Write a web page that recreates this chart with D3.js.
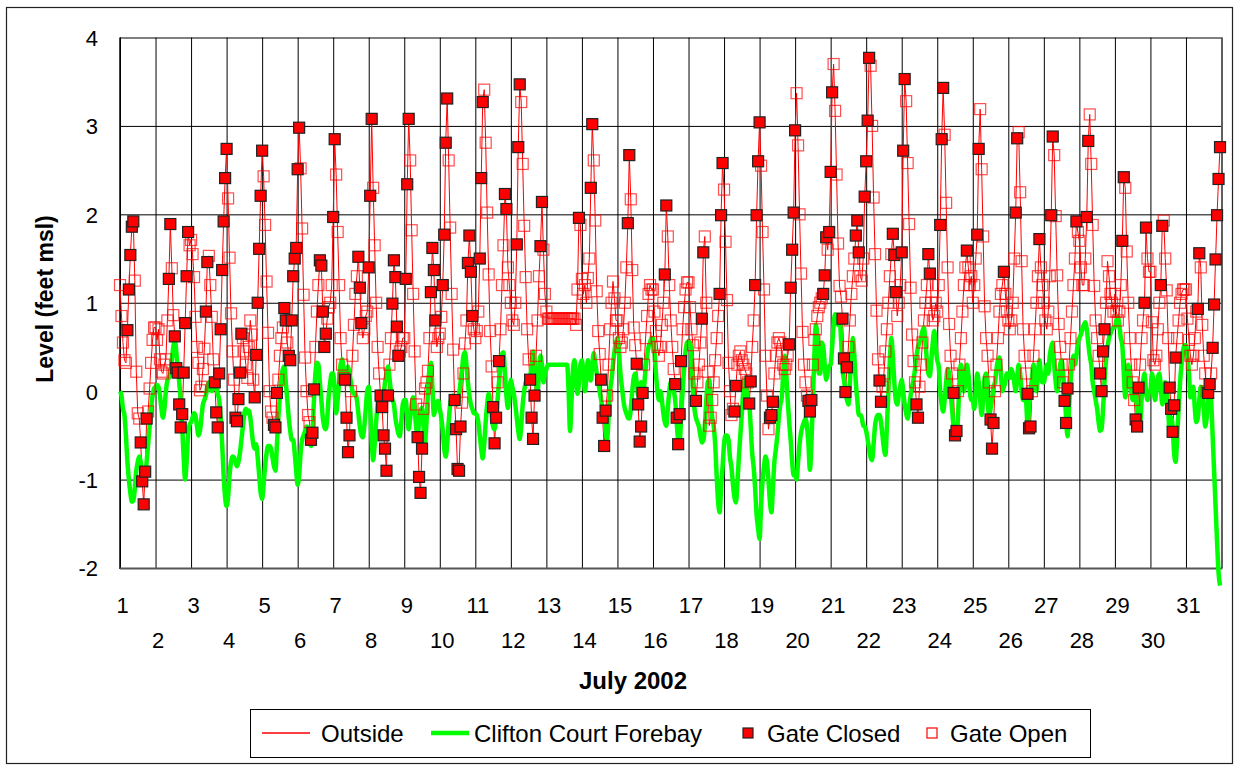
<!DOCTYPE html>
<html>
<head>
<meta charset="utf-8">
<script src="https://d3js.org/d3.v7.min.js"></script>
<style>
    body { margin: 0; background: #fff; }
    * { font-family: "Liberation Sans", Arial, sans-serif; }
    .tick text { font-size: 22px; fill: #000; }
    .gridlines .domain { display: none; }
    .gridlines line { stroke: #000; stroke-width: 1; }
    .legendLabel { font-size: 24px; }
</style>
</head>
<body>
<svg id="chart" width="1239" height="769"></svg>
<script>
// July 2002, hourly readings (feet msl)
const dayLabels = [1, 2, 3, 4, 5, 6, 7, 8, 9, 10, 11, 12, 13, 14, 15, 16,
    17, 18, 19, 20, 21, 22, 23, 24, 25, 26, 27, 28, 29, 30, 31];
const levelTicks = [-2, -1, 0, 1, 2, 3, 4];

const outside = [
    1.20, 0.85, 0.55, 0.35, 0.32, 0.69, 1.15, 1.54, 1.86, 1.92, 1.25, 0.22, -0.25, -0.31, -0.58, -1.02, -1.28, -0.91, -0.31, -0.23, 0.03, 0.32, 0.58, 0.72,
    0.72, 0.58, 0.70, 0.36, 0.22, 0.20, 0.30, 0.36, 0.80, 1.27, 1.89, 1.39, 0.86, 0.62, 0.26, 0.21, -0.15, -0.41, -0.26, 0.21, 0.77, 1.30, 1.80, 1.65,
    1.71, 1.55, 1.29, 0.84, 0.50, 0.32, 0.01, 0.05, 0.25, 0.48, 0.90, 1.46, 1.53, 1.20, 0.84, 0.36, 0.10, -0.24, -0.41, 0.20, 0.70, 1.37, 1.92, 2.41,
    2.74, 2.18, 1.51, 0.88, 0.45, 0.13, -0.30, -0.34, -0.09, 0.21, 0.65, 0.60, 0.45, 0.30, 0.15, 0.50, 0.80, 0.64, 0.13, -0.07, 0.41, 1.00, 1.61, 2.21,
    2.72, 2.43, 1.88, 1.24, 0.66, 0.00, -0.23, -0.30, -0.38, -0.41, -0.02, 0.13, 0.40, 0.60, 0.72, 0.94, 0.80, 0.55, 0.40, 0.35, 0.80, 1.30, 1.50, 1.62,
    2.51, 2.98, 2.52, 1.84, 1.09, 0.38, 0.00, -0.27, -0.35, -0.55, -0.47, 0.02, 0.50, 0.90, 1.20, 1.48, 1.42, 0.90, 0.50, 0.65, 0.82, 0.95, 1.00, 1.20,
    1.97, 2.85, 2.45, 1.80, 1.20, 0.60, 0.30, 0.15, 0.13, -0.30, -0.69, -0.50, 0.00, 0.40, 0.75, 1.10, 1.30, 1.52, 1.17, 0.77, 0.60, 0.70, 0.85, 0.90,
    1.40, 2.21, 3.08, 2.30, 1.65, 1.00, 0.50, 0.20, -0.05, -0.18, -0.50, -0.65, -0.90, -0.05, 0.30, 0.60, 0.99, 1.48, 1.29, 0.73, 0.40, 0.45, 0.50, 0.60,
    0.60, 1.27, 2.34, 3.08, 2.61, 1.82, 1.10, 0.45, -0.15, -0.52, -0.97, -1.15, -0.65, -0.20, 0.03, 0.10, 0.23, 0.60, 1.12, 1.62, 1.37, 0.80, 0.50, 0.60,
    0.65, 0.84, 1.20, 1.77, 2.81, 3.31, 2.61, 1.85, 1.10, 0.47, -0.10, -0.43, -0.88, -0.90, -0.40, -0.13, 0.20, 0.54, 0.80, 1.45, 1.76, 1.35, 0.85, 0.70,
    0.60, 0.68, 0.90, 1.50, 2.41, 3.27, 3.41, 2.81, 2.02, 1.32, 0.68, 0.28, -0.18, -0.59, -0.30, 0.10, 0.34, 0.70, 1.20, 1.65, 2.23, 2.06, 1.40, 1.20,
    1.00, 0.80, 0.75, 1.00, 1.66, 2.76, 3.47, 3.27, 2.57, 1.87, 1.29, 0.70, 0.36, 0.13, -0.30, -0.54, -0.05, 0.40, 0.80, 1.30, 1.64, 2.14, 1.60, 1.10,
    0.90, 0.82, 0.82, 0.82, 0.82, 0.82, 0.82, 0.82, 0.82, 0.82, 0.82, 0.82, 0.82, 0.82, 0.82, 0.82, 0.82, 0.82, 0.82, 0.82, 0.75, 1.15, 1.96, 1.88,
    1.27, 1.10, 1.20, 1.00, 1.28, 1.50, 2.30, 3.02, 2.61, 1.93, 1.13, 0.68, 0.42, 0.13, -0.30, -0.62, -0.22, -0.05, 0.30, 0.70, 1.00, 1.24, 1.05, 0.80,
    0.80, 0.60, 0.50, 0.55, 0.70, 1.00, 1.40, 1.90, 2.67, 2.17, 1.37, 0.72, 0.52, 0.31, -0.15, -0.57, -0.40, -0.02, 0.30, 0.60, 0.85, 1.10, 1.20, 1.15,
    1.15, 0.90, 0.68, 0.50, 0.40, 0.50, 0.75, 1.00, 1.32, 2.10, 1.75, 1.20, 0.80, 0.50, 0.25, 0.08, -0.30, -0.60, -0.26, 0.34, 0.70, 0.95, 1.15, 1.23,
    1.23, 0.95, 0.70, 0.52, 0.20, -0.11, 0.10, 0.30, 0.55, 0.82, 1.57, 1.75, 1.00, 0.22, -0.39, -0.30, -0.10, 0.10, 0.35, 0.60, 0.85, 1.10, 1.99, 2.58,
    2.28, 1.69, 1.03, 0.32, 0.00, -0.27, -0.20, -0.23, 0.06, 0.30, 0.40, 0.45, 0.35, 0.30, 0.25, 0.20, 0.10, -0.14, 0.11, 0.50, 0.80, 1.20, 1.99, 2.60,
    3.04, 2.55, 1.80, 1.15, 0.40, -0.05, -0.43, -0.30, -0.27, -0.12, 0.20, 0.40, 0.55, 0.60, 0.55, 0.45, 0.30, 0.25, 0.30, 0.40, 0.53, 1.17, 1.60, 2.02,
    2.95, 3.37, 2.78, 2.00, 1.33, 0.67, 0.30, 0.10, -0.05, -0.11, -0.23, -0.10, 0.30, 0.58, 0.70, 0.85, 0.95, 1.00, 1.05, 1.10, 1.31, 1.74, 1.60, 1.80,
    2.48, 3.38, 3.70, 3.17, 2.45, 1.67, 1.19, 1.07, 0.82, 0.37, -0.01, 0.27, 0.50, 0.80, 1.10, 1.30, 1.50, 1.76, 1.93, 1.57, 1.30, 1.25, 1.50, 2.20,
    2.60, 3.06, 3.77, 3.68, 3.00, 2.19, 1.55, 0.91, 0.36, 0.12, -0.12, 0.05, 0.20, 0.45, 0.70, 1.00, 1.30, 1.55, 1.78, 1.54, 1.12, 0.85, 1.00, 1.20,
    1.57, 2.72, 3.53, 3.28, 2.58, 1.89, 1.17, 0.64, 0.34, 0.10, -0.15, -0.30, 0.05, 0.30, 0.55, 0.80, 1.00, 1.20, 1.55, 1.33, 1.00, 0.80, 0.85, 1.00,
    0.90, 1.20, 1.88, 2.85, 3.43, 2.90, 2.13, 1.40, 0.76, 0.40, 0.20, -0.02, -0.50, -0.45, 0.00, 0.30, 0.60, 0.90, 1.20, 1.40, 1.59, 1.40, 1.20, 1.30,
    1.00, 1.20, 1.50, 1.77, 2.74, 3.19, 2.51, 1.75, 0.96, 0.60, 0.40, 0.10, -0.32, -0.65, -0.36, 0.00, 0.30, 0.60, 0.90, 1.10, 1.20, 1.35, 1.10, 0.90,
    0.80, 0.70, 0.80, 1.00, 1.50, 2.02, 2.86, 2.93, 2.25, 1.47, 0.70, 0.40, 0.20, -0.03, -0.42, -0.40, 0.00, 0.40, 0.70, 1.00, 1.30, 1.72, 1.40, 1.20,
    1.00, 0.80, 0.70, 0.90, 1.30, 1.99, 2.88, 2.67, 1.98, 1.31, 0.76, 0.50, 0.30, 0.10, -0.11, -0.36, 0.03, 0.30, 0.60, 0.90, 1.20, 1.50, 1.92, 1.80,
    1.70, 1.40, 1.20, 1.20, 1.50, 1.97, 2.83, 3.13, 2.57, 1.88, 1.19, 0.80, 0.60, 0.40, 0.20, 0.00, 0.45, 0.70, 1.00, 1.47, 1.30, 1.10, 1.00, 0.90,
    1.10, 0.90, 0.80, 0.90, 1.20, 1.70, 2.42, 2.30, 1.58, 1.00, 0.60, 0.30, 0.10, -0.10, -0.32, -0.40, 0.04, 0.30, 0.60, 0.80, 1.00, 1.85, 1.50, 1.35,
    1.35, 0.78, 0.35, 0.30, 0.40, 0.70, 1.00, 1.20, 1.87, 1.93, 1.50, 1.14, 0.60, 0.04, -0.20, -0.46, -0.16, 0.38, 0.60, 0.80, 1.00, 1.10, 1.15, 1.15,
    1.15, 0.82, 0.58, 0.40, 0.30, 0.40, 0.60, 0.90, 0.93, 1.56, 1.40, 0.75, 0.40, 0.20, 0.00, -0.02, 0.08, 0.20, 0.49, 0.98, 1.49, 1.99, 2.40, 2.76
];

const forebay = [
    0.00, -0.05, -0.20, -0.27, -0.50, -0.80, -1.00, -1.15, -1.25, -1.24, -1.10, -0.90, -0.80, -0.74, -0.80, -0.95, -1.05, -1.00, -0.80, -0.60, -0.40, -0.20, -0.05, 0.03,
    0.05, 0.07, 0.05, -0.05, -0.20, -0.30, -0.20, 0.00, 0.12, 0.15, 0.20, 0.35, 0.50, 0.58, 0.45, 0.25, 0.10, -0.10, -0.40, -0.75, -1.00, -0.80, -0.50, -0.38,
    -0.35, -0.30, -0.25, -0.28, -0.40, -0.50, -0.45, -0.30, -0.15, -0.10, -0.05, 0.05, 0.10, 0.05, 0.00, 0.05, 0.10, 0.05, -0.03, -0.10, -0.30, -0.60, -0.95, -1.20,
    -1.30, -1.20, -0.95, -0.80, -0.74, -0.75, -0.80, -0.85, -0.80, -0.70, -0.55, -0.40, -0.25, -0.20, -0.25, -0.22, -0.30, -0.45, -0.60, -0.65, -0.60, -0.75, -0.95, -1.15,
    -1.22, -1.05, -0.85, -0.70, -0.62, -0.62, -0.65, -0.75, -0.85, -0.90, -0.60, -0.30, -0.05, 0.15, 0.25, 0.28, 0.10, -0.10, -0.30, -0.45, -0.55, -0.55, -0.70, -0.90,
    -1.06, -0.95, -0.70, -0.55, -0.50, -0.45, -0.40, -0.42, -0.55, -0.62, -0.50, -0.10, 0.20, 0.32, 0.30, 0.10, -0.10, -0.30, -0.40, -0.43, -0.30, -0.05, 0.10, 0.20,
    0.20, 0.00, -0.25, -0.10, 0.10, 0.30, 0.36, 0.25, 0.13, 0.20, 0.28, 0.20, 0.10, 0.00, -0.03, -0.03, -0.10, -0.25, -0.40, -0.50, -0.52, -0.40, -0.20, 0.00,
    0.05, -0.20, -0.55, -0.78, -0.60, -0.35, -0.15, 0.00, -0.05, -0.15, -0.05, 0.10, 0.20, 0.28, 0.15, 0.00, -0.10, -0.15, -0.30, -0.40, -0.48, -0.51, -0.35, -0.15,
    -0.10, -0.10, -0.30, -0.43, -0.30, -0.15, -0.07, -0.20, -0.40, -0.51, -0.35, -0.22, -0.19, -0.40, -0.58, -0.35, 0.00, 0.25, 0.32, 0.05, -0.27, -0.20, -0.12, -0.11,
    -0.20, -0.30, -0.45, -0.65, -0.74, -0.60, -0.35, -0.15, -0.07, -0.05, -0.10, -0.15, -0.15, -0.05, 0.10, 0.25, 0.40, 0.44, 0.30, 0.10, -0.05, -0.15, -0.20, -0.25,
    -0.25, -0.27, -0.35, -0.50, -0.65, -0.76, -0.60, -0.35, -0.15, -0.03, -0.10, -0.25, -0.40, -0.43, -0.30, -0.10, 0.10, 0.30, 0.42, 0.44, 0.20, -0.05, -0.19, -0.05,
    0.13, 0.05, -0.03, -0.15, -0.30, -0.45, -0.54, -0.40, -0.15, 0.00, 0.10, 0.13, 0.10, 0.15, 0.30, 0.45, 0.35, 0.10, 0.00, 0.20, 0.40, 0.30, 0.10, 0.20,
    0.25, 0.30, 0.30, 0.30, 0.30, 0.30, 0.30, 0.30, 0.30, 0.30, 0.30, 0.30, 0.30, 0.30, 0.30, 0.00, -0.45, -0.10, 0.25, 0.35, 0.15, -0.03, 0.10, 0.30,
    0.35, 0.20, 0.00, 0.15, 0.35, 0.20, 0.12, 0.30, 0.43, 0.32, 0.20, 0.10, 0.00, -0.10, -0.20, -0.20, -0.45, -0.55, -0.30, 0.00, 0.13, 0.30, 0.45, 0.55,
    0.60, 0.45, 0.20, 0.05, -0.10, -0.20, -0.25, -0.30, -0.31, -0.20, 0.00, 0.15, 0.20, 0.10, -0.05, 0.00, 0.10, -0.05, 0.05, 0.25, 0.40, 0.50, 0.55, 0.60,
    0.60, 0.45, 0.20, 0.00, -0.10, 0.00, -0.10, -0.25, -0.35, -0.39, -0.20, 0.00, 0.10, 0.05, 0.00, -0.10, -0.35, -0.55, -0.58, -0.30, 0.00, 0.25, 0.45, 0.55,
    0.56, 0.55, 0.40, 0.00, -0.20, -0.30, -0.35, -0.40, -0.50, -0.58, -0.55, -0.40, -0.10, 0.10, 0.13, -0.10, -0.30, -0.39, -0.60, -0.95, -1.25, -1.37, -1.10, -0.86,
    -0.60, -0.50, -0.50, -0.55, -0.75, -0.86, -1.05, -1.20, -1.26, -1.05, -0.75, -0.50, -0.25, 0.00, 0.13, 0.05, -0.10, -0.15, -0.40, -0.70, -0.86, -1.10, -1.40, -1.55,
    -1.67, -1.30, -1.02, -0.85, -0.74, -0.80, -1.00, -1.25, -1.37, -1.10, -0.80, -0.66, -0.50, -0.30, -0.15, -0.07, 0.20, 0.40, 0.20, -0.10, -0.35, -0.55, -0.80, -0.95,
    -0.95, -1.00, -0.80, -0.60, -0.47, -0.40, -0.35, -0.31, -0.40, -0.60, -0.89, -0.60, -0.10, 0.40, 0.75, 0.60, 0.20, 0.20, 0.55, 0.50, 0.30, 0.13, 0.20, 0.28,
    0.30, 0.50, 0.75, 0.87, 0.80, 0.75, 0.83, 0.60, 0.25, 0.13, 0.00, -0.10, -0.15, 0.10, 0.40, 0.60, 0.40, 0.10, -0.10, -0.27, -0.27, -0.30, -0.39, -0.40,
    -0.45, -0.55, -0.65, -0.75, -0.78, -0.60, -0.39, -0.30, -0.27, -0.27, -0.35, -0.50, -0.65, -0.72, -0.40, 0.00, 0.35, 0.60, 0.40, 0.10, -0.10, -0.15, -0.05, 0.05,
    0.13, 0.00, -0.15, -0.25, -0.31, -0.20, -0.05, 0.05, 0.13, 0.25, 0.40, 0.50, 0.55, 0.60, 0.68, 0.72, 0.55, 0.35, 0.20, 0.17, 0.35, 0.55, 0.68, 0.50,
    0.35, 0.28, 0.00, -0.15, -0.23, -0.10, 0.10, 0.25, 0.20, 0.00, -0.20, -0.40, -0.50, -0.52, -0.30, 0.10, 0.30, 0.20, 0.00, 0.10, 0.30, 0.20, 0.00, -0.10,
    -0.10, -0.20, 0.00, 0.20, 0.10, -0.10, -0.27, -0.10, 0.15, 0.20, -0.10, -0.27, -0.20, -0.10, 0.05, 0.10, 0.25, 0.35, 0.38, 0.20, 0.00, 0.05, 0.10, 0.20,
    0.20, 0.15, 0.25, 0.20, 0.10, 0.00, 0.15, 0.30, 0.20, 0.00, -0.10, 0.00, -0.10, -0.37, -0.20, 0.00, 0.15, 0.30, 0.10, 0.00, 0.20, 0.35, 0.20, 0.10,
    0.10, 0.20, 0.30, 0.20, 0.40, 0.50, 0.55, 0.30, 0.10, 0.00, 0.10, 0.30, 0.35, 0.20, 0.00, -0.30, -0.51, -0.20, 0.10, 0.30, 0.40, 0.30, 0.40, 0.55,
    0.60, 0.64, 0.70, 0.75, 0.78, 0.70, 0.55, 0.40, 0.30, 0.10, 0.00, -0.10, -0.20, -0.35, -0.45, -0.43, -0.20, 0.10, 0.35, 0.50, 0.60, 0.65, 0.70, 0.72,
    0.72, 0.80, 0.84, 0.75, 0.60, 0.52, 0.20, -0.07, 0.10, 0.30, 0.20, 0.00, -0.10, 0.05, 0.00, -0.20, -0.40, -0.39, -0.10, 0.10, 0.20, 0.00, -0.10, 0.00,
    0.00, 0.20, 0.10, -0.10, 0.00, 0.15, 0.20, 0.05, -0.15, -0.05, 0.10, 0.00, -0.20, -0.50, -0.30, -0.40, -0.70, -0.80, -0.55, -0.20, 0.10, 0.30, 0.45, 0.52,
    0.52, 0.40, 0.20, -0.07, 0.00, 0.05, -0.20, -0.35, -0.30, -0.10, 0.05, 0.00, -0.20, -0.40, -0.30, -0.10, 0.05, -0.10, -0.50, -0.90, -1.30, -1.70, -2.05, -2.20
];

// one string per day, one character per hour: 1 = gate closed, 0 = gate open
const gateClosed = [
    "000001111100001111100000", "000000000110011111111110", "000000000011000011111111",
    "100000111110000000011111", "100000001110000110111111", "110000000111000111110000",
    "110000001111000001110000", "111000001111110011111000", "011100000111100000111100",
    "001111000011111000011110", "000111000000111010001100", "000011100000011110001100",
    "000000000000000000000010", "000000110000011110000000", "000000011000011111000000",
    "000000001100000111110000", "000001000110000000000111", "000000011000000001100111",
    "100000011100000000001111", "100000000111000000011101", "110000001111000001110001",
    "111000000110000000111000", "111000000011000000110000", "001110000001110000001000",
    "000110000000111000000100", "000001100000011100000100", "000001100000001110000010",
    "000001100000001111000000", "000001100000001110001100", "000000011000011111000000",
    "000000001100000110111111"
];

const svg = d3.select('svg#chart');
const plotLeft = 120, plotRight = 1221.5, plotTop = 37.5, plotBottom = 568;

const hours = outside.map((v, i) => ({
    hour: i,
    outside: v,
    forebay: forebay[i],
    closed: gateClosed[Math.floor(i / 24)][i % 24] === '1'
}));

const xScale = d3.scaleLinear().domain([0, dayLabels.length * 24]).range([plotLeft, plotRight]);
const yScale = d3.scaleLinear().domain([-2, 4]).range([plotBottom, plotTop]);

// outer frame
svg.append('rect')
    .attr('x', 6.5).attr('y', 7.5).attr('width', 1226).attr('height', 756)
    .attr('fill', '#fff').attr('stroke', '#222').attr('stroke-width', 1.2);

// gridlines
let dayTicks = dayLabels.map(d => (d - 1) * 24).concat([dayLabels.length * 24]);
svg.append('g').attr('class', 'gridlines')
    .attr('transform', `translate(0,${plotBottom})`)
    .call(d3.axisBottom(xScale).tickValues(dayTicks).tickSize(-(plotBottom - plotTop)).tickFormat(''));
svg.append('g').attr('class', 'gridlines')
    .attr('transform', `translate(${plotLeft},0)`)
    .call(d3.axisLeft(yScale).tickValues(levelTicks).tickSize(-(plotRight - plotLeft)).tickFormat(''));

// plot frame
svg.append('line').attr('x1', plotLeft).attr('x2', plotLeft).attr('y1', plotTop).attr('y2', plotBottom + 1)
    .attr('stroke', '#000').attr('stroke-width', 1.5);
svg.append('line').attr('x1', plotLeft).attr('x2', plotRight + 1).attr('y1', plotBottom + 0.5).attr('y2', plotBottom + 0.5)
    .attr('stroke', '#555').attr('stroke-width', 2);
svg.append('line').attr('x1', plotRight + 0.5).attr('x2', plotRight + 0.5).attr('y1', plotTop).attr('y2', plotBottom)
    .attr('stroke', '#555').attr('stroke-width', 1.5);

// y axis labels (plain hyphen for negatives, no decimals)
let leftAxis = svg.append('g')
    .attr('transform', `translate(${plotLeft},0)`)
    .call(d3.axisLeft(yScale).tickValues(levelTicks).tickSize(0).tickPadding(22)
        .tickFormat(d => String(d)));
leftAxis.select('.domain').remove();
leftAxis.selectAll('.tick text').attr('dy', '0.36em');

// x axis labels, odd days on the first row, even days on the second
let oddDays = dayLabels.filter(d => d % 2 === 1);
let evenDays = dayLabels.filter(d => d % 2 === 0);
let rowOne = svg.append('g')
    .attr('transform', `translate(2,${plotBottom})`)
    .call(d3.axisBottom(xScale).tickValues(oddDays.map(d => (d - 1) * 24)).tickSize(0).tickPadding(29)
        .tickFormat(v => v / 24 + 1));
rowOne.select('.domain').remove();
let rowTwo = svg.append('g')
    .attr('transform', `translate(2,${plotBottom})`)
    .call(d3.axisBottom(xScale).tickValues(evenDays.map(d => (d - 1) * 24)).tickSize(0).tickPadding(64)
        .tickFormat(v => v / 24 + 1));
rowTwo.select('.domain').remove();

// axis titles
svg.append('text').text('July 2002')
    .attr('x', 633).attr('y', 689)
    .attr('text-anchor', 'middle')
    .style('font-weight', 'bold').style('font-size', '24px');

svg.append('text').text('Level (feet msl)')
    .attr('transform', 'translate(52.5,299) rotate(-90)')
    .attr('text-anchor', 'middle')
    .style('font-weight', 'bold').style('font-size', '23px');

// series
let outsideLine = d3.line().x(d => xScale(d.hour)).y(d => yScale(d.outside));
let forebayLine = d3.line().x(d => xScale(d.hour)).y(d => yScale(d.forebay)).curve(d3.curveMonotoneX);

let series = svg.append('g').attr('id', 'series');

series.append('path')
    .datum(hours)
    .attr('d', outsideLine)
    .attr('fill', 'none')
    .attr('stroke', '#ff0000')
    .attr('stroke-width', 1);

series.append('path')
    .datum(hours)
    .attr('d', forebayLine)
    .attr('fill', 'none')
    .attr('stroke', '#00ff00')
    .attr('stroke-width', 4.5)
    .attr('stroke-linejoin', 'round');

const markerSize = 11;

series.selectAll('rect.gateOpen')
    .data(hours.filter(d => !d.closed))
    .join('rect')
    .attr('class', 'gateOpen')
    .attr('x', d => xScale(d.hour) - markerSize / 2)
    .attr('y', d => yScale(d.outside) - markerSize / 2)
    .attr('width', markerSize).attr('height', markerSize)
    .attr('fill', 'none')
    .attr('stroke', '#ff0000')
    .attr('stroke-opacity', 0.7)
    .attr('stroke-width', 1.2);

series.selectAll('rect.gateClosed')
    .data(hours.filter(d => d.closed))
    .join('rect')
    .attr('class', 'gateClosed')
    .attr('x', d => xScale(d.hour) - markerSize / 2)
    .attr('y', d => yScale(d.outside) - markerSize / 2)
    .attr('width', markerSize).attr('height', markerSize)
    .attr('fill', '#ff0000')
    .attr('stroke', '#222')
    .attr('stroke-width', 1.2);

// legend
let legend = svg.append('g').attr('id', 'legend');
legend.append('rect')
    .attr('x', 250.5).attr('y', 709.5).attr('width', 840).attr('height', 48)
    .attr('fill', '#fff').attr('stroke', '#000').attr('stroke-width', 1);

const legendY = 733;
legend.append('line').attr('x1', 262).attr('x2', 310).attr('y1', legendY).attr('y2', legendY)
    .attr('stroke', '#ff0000').attr('stroke-width', 1.5);
legend.append('text').attr('class', 'legendLabel').attr('x', 321).attr('y', legendY + 8.5).text('Outside');

legend.append('line').attr('x1', 431).attr('x2', 469).attr('y1', legendY).attr('y2', legendY)
    .attr('stroke', '#00ff00').attr('stroke-width', 4.5);
legend.append('text').attr('class', 'legendLabel').attr('x', 474).attr('y', legendY + 8.5).text('Clifton Court Forebay');

legend.append('rect').attr('x', 743).attr('y', legendY - 5).attr('width', 10).attr('height', 10)
    .attr('fill', '#ff0000').attr('stroke', '#222').attr('stroke-width', 1.2);
legend.append('text').attr('class', 'legendLabel').attr('x', 767).attr('y', legendY + 8.5).text('Gate Closed');

legend.append('rect').attr('x', 927).attr('y', legendY - 5).attr('width', 10).attr('height', 10)
    .attr('fill', 'none').attr('stroke', '#ff0000').attr('stroke-width', 1.2);
legend.append('text').attr('class', 'legendLabel').attr('x', 950).attr('y', legendY + 8.5).text('Gate Open');
</script>
</body>
</html>
